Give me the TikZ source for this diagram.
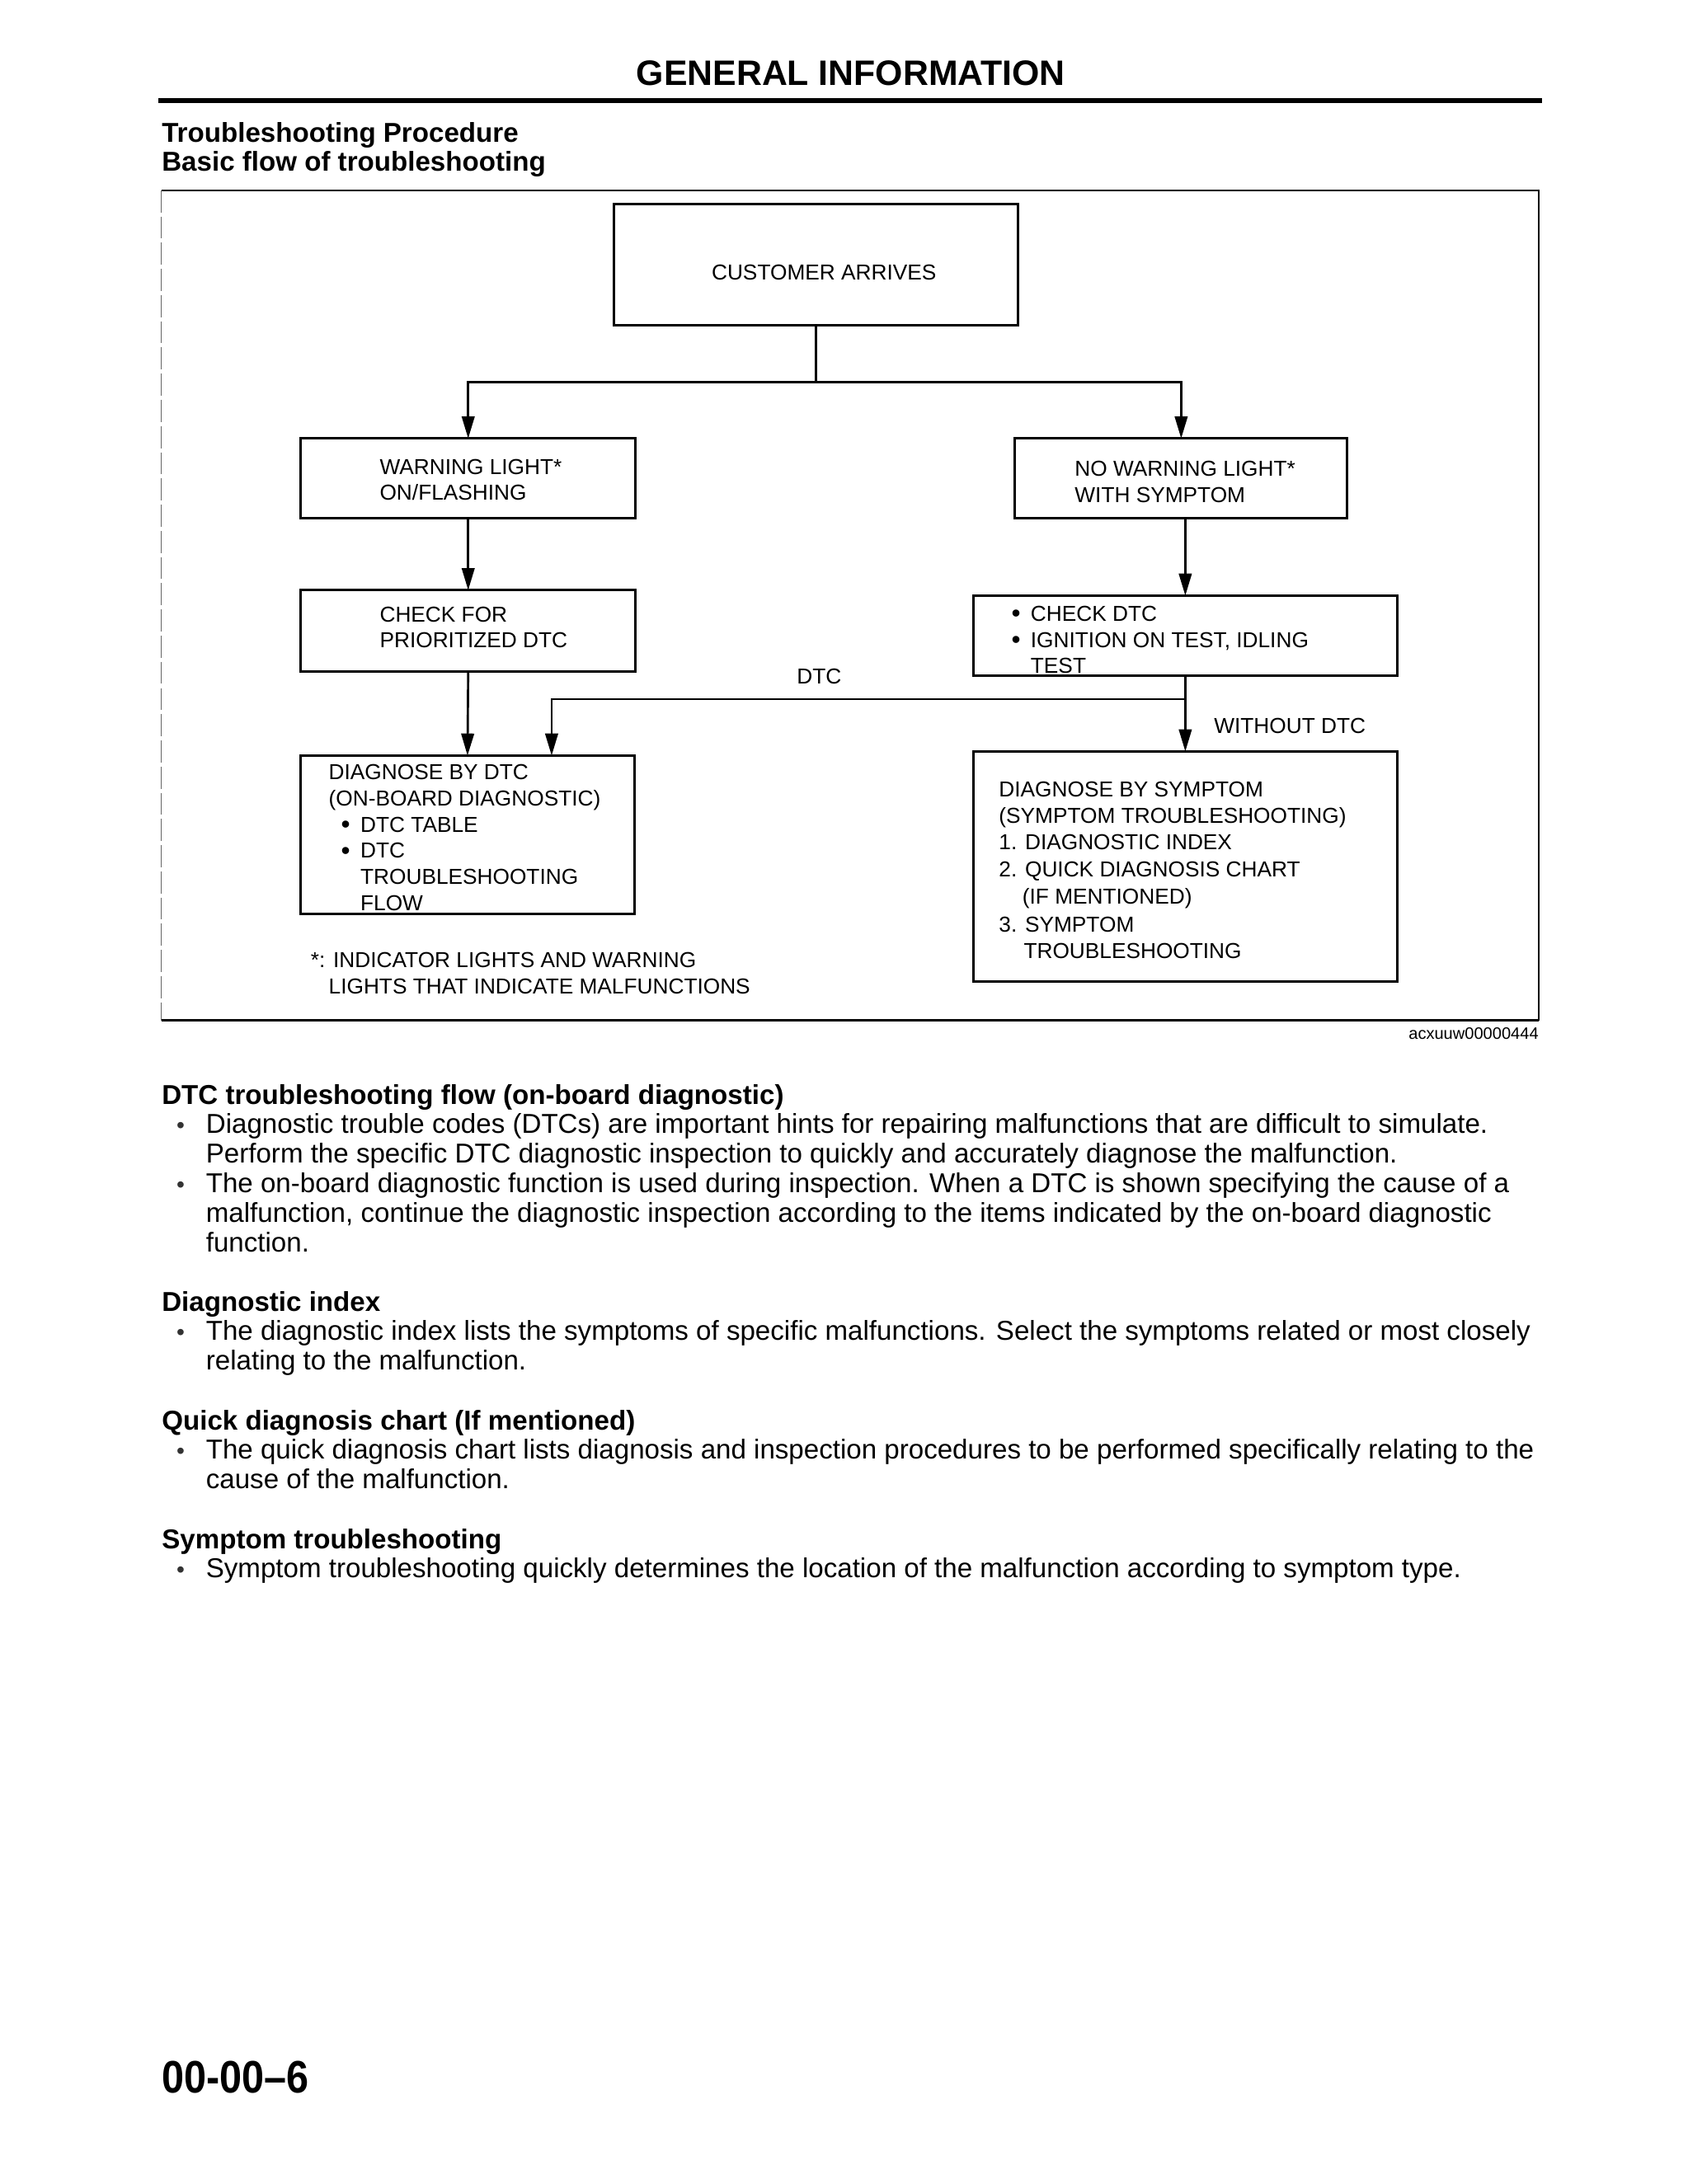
\documentclass[tikz,border=0pt]{standalone}
\usepackage{fontspec}
\setmainfont{Liberation Sans}
\usetikzlibrary{arrows.meta,calc}
\newcommand\dgfont{\fontsize{7.85}{9.5}\selectfont}
\newcommand\bdfont{\fontsize{9.9}{10.75}\selectfont}
\newcommand\hdfont{\fontsize{9.9}{11}\selectfont\bfseries}
\newcommand\bul{\makebox[7pt][l]{\raisebox{-0.5pt}{\scalebox{1.2}{\textbullet}}}}
\begin{document}
\begin{tikzpicture}[x=0.5pt,y=-0.5pt,
  box/.style={draw,line width=0.9pt,inner sep=0pt,outer sep=0pt},
  dtext/.style={font=\dgfont,align=left,inner sep=0pt},
  bline/.style={font=\bdfont,anchor=base west,inner sep=0pt},
  hline/.style={font=\hdfont,anchor=base west,inner sep=0pt},
  bdot/.style={font=\bdfont,anchor=base,inner sep=0pt,text=black!80},
  arr/.style={line width=0.8pt,-{Triangle[length=8pt,width=4.6pt]}},
  conn/.style={line width=0.8pt}]
\useasboundingbox (0,0) rectangle (1224,1584);
% header
\node[font=\fontsize{12.8}{14}\selectfont\bfseries,anchor=base,inner sep=0pt] (title) at (617,62) {GENERAL INFORMATION};
\draw[line width=1.6pt] (115,73) -- (1118,73);
\node[hline] (h1) at (117,103) {Troubleshooting Procedure};
\node[hline] (h2) at (117,124) {Basic flow of troubleshooting};
% frame
\draw[line width=0.6pt] (117,138) -- (1116,138) -- (1116,740);
\draw[line width=0.8pt] (117,740) -- (1116,740);
\draw[line width=0.4pt,black!60,dash pattern=on 8pt off 1.5pt] (117,138) -- (117,740);
% boxes
\node[box,minimum width=146.5pt,minimum height=44pt] (cust) at (591.5,192) {};
\node[dtext,anchor=base] (cust-t) at (597.5,203) {CUSTOMER ARRIVES};
\node[box,minimum width=121.5pt,minimum height=29pt] (warn) at (339.5,347) {};
\node[dtext,anchor=west] (warn-t) at (275,348) {WARNING LIGHT*\\ON/FLASHING};
\node[box,minimum width=120.5pt,minimum height=29pt] (nowarn) at (856.5,347) {};
\node[dtext,anchor=west] (nowarn-t) at (779,349.5) {NO WARNING LIGHT*\\WITH SYMPTOM};
\node[box,minimum width=121.5pt,minimum height=29.5pt] (chkfor) at (339.5,457.5) {};
\node[dtext,anchor=west] (chkfor-t) at (275,455) {CHECK FOR\\PRIORITIZED DTC};
\node[box,minimum width=153.5pt,minimum height=29pt] (chkdtc) at (859.5,461) {};
\node[dtext,anchor=west] (chkdtc-t) at (733,464) {\bul CHECK DTC\\\bul IGNITION ON TEST, IDLING\\\hspace*{7pt}TEST};
\node[box,minimum width=121pt,minimum height=57.5pt] (diagdtc) at (339,605.5) {};
\node[dtext,anchor=west] (diagdtc-t) at (238,607.5) {DIAGNOSE BY DTC\\(ON-BOARD DIAGNOSTIC)\\\hspace*{4.5pt}\bul DTC TABLE\\\hspace*{4.5pt}\bul DTC\\\hspace*{11.5pt}TROUBLESHOOTING\\\hspace*{11.5pt}FLOW};
\node[box,minimum width=153.5pt,minimum height=83.5pt] (diagsym) at (859.5,628.5) {};
\node[dtext,anchor=west] (diagsym-t) at (724,631) {DIAGNOSE BY SYMPTOM\\(SYMPTOM TROUBLESHOOTING)\\1. DIAGNOSTIC INDEX\\[0.5pt]2. QUICK DIAGNOSIS CHART\\[0.5pt]\hspace*{8.5pt}(IF MENTIONED)\\[0.5pt]3. SYMPTOM\\\hspace*{9pt}TROUBLESHOOTING};
% connectors
\coordinate (split) at (591.5,277);
\coordinate (dtcx) at (400,0);
\coordinate (join) at (859.5,507);
\draw[conn] (cust.south) -- (split);
\draw[arr] (split) -| (warn.north);
\draw[arr] (split) -| (nowarn.north);
\draw[arr] (warn.south) -- (chkfor.north);
\draw[arr] (nowarn.south -| chkdtc.north) -- (chkdtc.north);
\draw[arr] (chkfor.south) -- (diagdtc.north);
\draw[arr] (chkdtc.south) -- (diagsym.north);
\draw[arr] (join) -| (diagdtc.north -| dtcx);
\node[dtext,anchor=base] (lbl-dtc) at (594,496) {DTC};
\node[dtext,anchor=base west] (lbl-wo) at (880,532) {WITHOUT DTC};
\node[dtext,anchor=west] (foot) at (225,706) {*: INDICATOR LIGHTS AND WARNING\\\hspace*{6.5pt}LIGHTS THAT INDICATE MALFUNCTIONS};
\node[font=\fontsize{6}{7}\selectfont,anchor=base east,inner sep=0pt] (figid) at (1116,754) {acxuuw00000444};
% body text
\node[hline] (s1) at (117,801) {DTC troubleshooting flow (on-board diagnostic)};
\node[bdot] (d1) at (131,822) {\scalebox{0.85}{\textbullet}};
\node[bline] (l1) at (149,822) {Diagnostic trouble codes (DTCs) are important hints for repairing malfunctions that are difficult to simulate.};
\node[bline] (l2) at (149,843.5) {Perform the specific DTC diagnostic inspection to quickly and accurately diagnose the malfunction.};
\node[bdot] (d2) at (131,865) {\scalebox{0.85}{\textbullet}};
\node[bline] (l3) at (149,865) {The on-board diagnostic function is used during inspection. When a DTC is shown specifying the cause of a};
\node[bline] (l4) at (149,886.5) {malfunction, continue the diagnostic inspection according to the items indicated by the on-board diagnostic};
\node[bline] (l5) at (149,908) {function.};
\node[hline] (s2) at (117,951) {Diagnostic index};
\node[bdot] (d3) at (131,972) {\scalebox{0.85}{\textbullet}};
\node[bline] (l6) at (149,972) {The diagnostic index lists the symptoms of specific malfunctions. Select the symptoms related or most closely};
\node[bline] (l7) at (149,993.5) {relating to the malfunction.};
\node[hline] (s3) at (117,1037) {Quick diagnosis chart (If mentioned)};
\node[bdot] (d4) at (131,1058) {\scalebox{0.85}{\textbullet}};
\node[bline] (l8) at (149,1058) {The quick diagnosis chart lists diagnosis and inspection procedures to be performed specifically relating to the};
\node[bline] (l9) at (149,1079.5) {cause of the malfunction.};
\node[hline] (s4) at (117,1123) {Symptom troubleshooting};
\node[bdot] (d5) at (131,1144) {\scalebox{0.85}{\textbullet}};
\node[bline] (l10) at (149,1144) {Symptom troubleshooting quickly determines the location of the malfunction according to symptom type.};
% page number
\node[font=\fontsize{16.5}{18}\selectfont\bfseries,anchor=base west,inner sep=0pt] (pageno) at (117,1518) {\scalebox{0.88}[1]{00-00–6}};
\end{tikzpicture}
\end{document}
